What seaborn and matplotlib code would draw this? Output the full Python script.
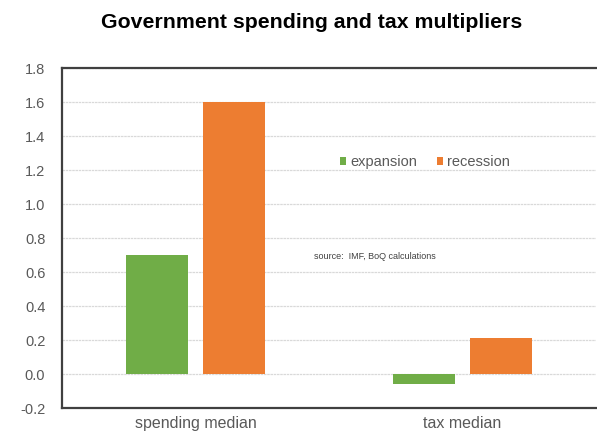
import matplotlib
matplotlib.use("Agg")
import matplotlib.pyplot as plt
import seaborn as sns
import pandas as pd

# Median fiscal multipliers by state of the economy
categories = ["spending median", "tax median"]
states = ["expansion", "recession"]
expansion = [0.70, -0.06]
recession = [1.60, 0.21]
y_ticks = [-0.2, 0.0, 0.2, 0.4, 0.6, 0.8, 1.0, 1.2, 1.4, 1.6, 1.8]

df = pd.DataFrame({
    "category": categories * 2,
    "state": [states[0]] * 2 + [states[1]] * 2,
    "value": expansion + recession,
})

sns.set_theme(style="white")
plt.rcParams["font.family"] = ["Liberation Sans", "DejaVu Sans"]

fig = plt.figure(figsize=(5.97, 4.38), dpi=100)
ax = fig.add_axes([62 / 597, 30 / 438, 534 / 597, 340 / 438])

palette = {"expansion": "#70AD47", "recession": "#ED7D31"}
sns.barplot(data=df, x="category", y="value", hue="state", order=categories,
            hue_order=states, palette=palette, width=0.576, gap=0.2,
            saturation=1, linewidth=0, ax=ax, zorder=3, legend=True)

ax.set_xlim(-0.5, 1.5)
ax.set_ylim(-0.2, 1.8)
ax.set_yticks(y_ticks)
ax.set_yticklabels([f"{t:.1f}" for t in y_ticks])
ax.set_xlabel("")
ax.set_ylabel("")

ax.grid(axis="y", color="#d9d9d9", linewidth=0.9, linestyle=(0, (2, 0.6)), zorder=0)
ax.set_axisbelow(True)

for side in ["left", "top", "bottom"]:
    ax.spines[side].set_color("#404040")
    ax.spines[side].set_linewidth(1.6)
ax.spines["right"].set_visible(False)

ax.tick_params(axis="y", length=0, pad=12, labelsize=10.5, labelcolor="#595959")
ax.tick_params(axis="x", length=0, pad=6, labelsize=11.5, labelcolor="#595959")

handles, labels = ax.get_legend_handles_labels()
ax.legend(handles, labels, loc="center", bbox_to_anchor=(0.68, 0.7235), ncol=2,
          frameon=False, handlelength=0.42, handleheight=0.42, handletextpad=0.32,
          columnspacing=1.3, fontsize=10.5, labelcolor="#595959")

ax.text(0.472, 0.447, "source:  IMF, BoQ calculations", transform=ax.transAxes,
        fontsize=6.5, color="#404040", va="center", ha="left", fontstretch="condensed")

fig.text(312 / 597, 1 - 23 / 438, "Government spending and tax multipliers",
         ha="center", va="center", fontsize=15.3, fontweight="bold", color="#000000")

fig.savefig("out.png", dpi=100)
